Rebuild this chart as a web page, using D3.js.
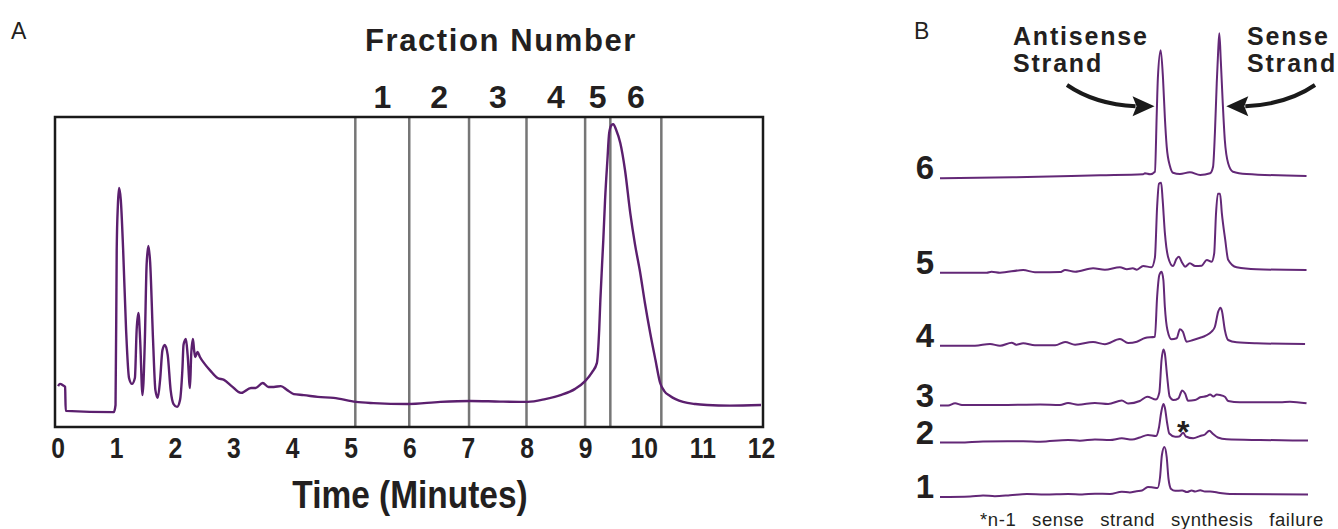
<!DOCTYPE html>
<html>
<head>
<meta charset="utf-8">
<script src="https://cdn.jsdelivr.net/npm/d3@7"></script>
<style>
  body { margin: 0; background: #fff; }
  svg { display: block; }
  text { font-family: "Liberation Sans", Arial, sans-serif; fill: #231f20; }
</style>
</head>
<body>
<div id="chart"></div>
<script>
// ---- Panel A: preparative run, [time (min), absorbance] ----
const timeTicks = d3.range(0, 13);
const fractionCuts = [5.08, 6, 7.02, 8, 9, 9.43, 10.3];
const fractionNames = ["1", "2", "3", "4", "5", "6"];
const prepTrace = [
  [0.01, 13.2], [0.04, 13.9], [0.09, 13.5], [0.13, 12.9], [0.14, 5.2], [0.96, 4.8],
  [0.99, 7.1], [1.01, 57], [1.03, 71.6], [1.05, 77.1], [1.08, 73.2], [1.12, 57],
  [1.17, 31.3], [1.22, 15.8], [1.27, 13.9], [1.32, 15.8], [1.35, 31.3], [1.38, 36.8],
  [1.41, 28], [1.45, 10.3], [1.49, 28], [1.52, 52.3], [1.55, 58.4], [1.58, 53.2],
  [1.63, 28], [1.67, 11.9], [1.71, 9.4], [1.75, 15.2], [1.79, 24.8], [1.83, 26.5],
  [1.88, 23.2], [1.93, 11.9], [1.98, 7.4], [2.04, 6.5], [2.09, 8.7], [2.13, 18.4],
  [2.15, 26.5], [2.19, 28.4], [2.22, 23.2], [2.26, 12.6], [2.28, 23.2], [2.31, 28.4],
  [2.33, 24.8], [2.35, 22.6], [2.39, 24.2], [2.43, 22.6], [2.50, 20.6], [2.61, 18.1],
  [2.73, 15.8], [2.84, 15.2], [2.97, 13.2], [3.13, 11], [3.30, 12.6], [3.38, 12.6],
  [3.50, 14.2], [3.60, 12.9], [3.69, 12.9], [3.81, 13.2], [3.92, 11.9], [4.03, 10.6],
  [4.20, 10.3], [4.44, 9.7], [4.71, 9.4], [5.09, 8.1], [5.39, 7.7], [5.97, 7.4],
  [6.53, 8.1], [7.04, 8.4], [7.55, 8.2], [8.02, 8.1], [8.32, 9.0], [8.58, 10.3],
  [8.83, 12.3], [9.0, 14.8], [9.12, 17.7], [9.20, 20.6], [9.24, 31.3], [9.26, 41],
  [9.31, 60.3], [9.34, 73.2], [9.38, 86.1], [9.41, 94.8], [9.45, 97.4], [9.48, 97.7],
  [9.53, 95.8], [9.60, 91.6], [9.68, 82.9], [9.77, 69], [9.85, 59], [9.94, 49.7],
  [10.02, 40], [10.11, 30.3], [10.20, 21.6], [10.28, 14.2], [10.35, 11.6], [10.45, 10],
  [10.67, 8.1], [10.88, 7.4], [11.08, 7.1], [11.47, 6.9], [12.0, 7.1]
];

// ---- Panel B: analytical runs of each fraction, [retention (rel. %), absorbance] ----
const fractionOffsets = [0, 0.545, 0.915, 1.513, 2.243, 3.187];
const trace1 = [
  [0, 0], [8.2, 0.005], [11.7, 0.015], [14.9, 0.008], [19.0, 0.017], [23.6, 0.03],
  [28.5, 0.025], [34.8, 0.03], [38.6, 0.025], [42.1, 0.033], [46.2, 0.03], [49.4, 0.053],
  [51.6, 0.045], [53.4, 0.058], [54.9, 0.065], [56.5, 0.10], [57.9, 0.095], [59.1, 0.09],
  [59.8, 0.2], [60.3, 0.42], [60.98, 0.50], [61.6, 0.40], [62.1, 0.18], [62.8, 0.08],
  [63.9, 0.062], [65.8, 0.065], [67.1, 0.05], [68.4, 0.065], [69.3, 0.055], [70.7, 0.068],
  [72.0, 0.055], [73.4, 0.055], [76.1, 0.04], [78.8, 0.03], [100, 0.025]
];
const trace2 = [
  [0, 0], [5.4, 0.0], [11.7, 0.01], [22.6, 0.012], [27.2, 0.008], [34.8, 0.025],
  [38.0, 0.018], [42.1, 0.03], [46.2, 0.025], [49.4, 0.042], [52.2, 0.03], [54.3, 0.05],
  [56.5, 0.075], [58.7, 0.065], [59.5, 0.15], [60.1, 0.30], [60.7, 0.385], [61.1, 0.35],
  [61.7, 0.20], [62.3, 0.09], [63.9, 0.058], [65.0, 0.06], [66.1, 0.098], [66.8, 0.06],
  [68.8, 0.042], [70.7, 0.065], [72.0, 0.08], [73.2, 0.118], [74.2, 0.085], [75.5, 0.05],
  [77.9, 0.032], [87.0, 0.025], [100, 0.02]
];
const trace3 = [
  [0, 0], [2.2, 0.0], [4.1, 0.022], [5.98, 0.005], [16.3, 0.005], [27.2, 0.01],
  [32.6, 0.005], [34.8, 0.025], [37.5, 0.008], [42.1, 0.025], [45.7, 0.015], [49.4, 0.05],
  [51.1, 0.02], [54.3, 0.045], [56.3, 0.088], [58.7, 0.06], [59.6, 0.13], [60.2, 0.455],
  [60.7, 0.56], [61.1, 0.52], [61.7, 0.30], [62.4, 0.09], [63.4, 0.055], [64.8, 0.072],
  [65.8, 0.15], [66.6, 0.12], [67.4, 0.048], [69.3, 0.055], [70.7, 0.082], [72.5, 0.095],
  [73.4, 0.11], [74.3, 0.09], [75.2, 0.11], [76.1, 0.105], [77.4, 0.088], [78.3, 0.045],
  [81.5, 0.032], [92.4, 0.032], [95.1, 0.038], [99.6, 0.022]
];
const trace4 = [
  [0, 0], [9.5, 0.0], [13.6, 0.017], [16.3, 0.0], [19.5, 0.03], [20.7, 0.01],
  [22.6, 0.024], [25.8, 0.005], [31.3, 0.005], [34.0, 0.037], [36.7, 0.01], [41.6, 0.037],
  [44.8, 0.015], [48.9, 0.067], [51.1, 0.027], [53.5, 0.04], [55.7, 0.077], [58.4, 0.09],
  [59.0, 0.49], [59.6, 0.707], [60.2, 0.74], [60.7, 0.657], [61.1, 0.39], [61.8, 0.157],
  [62.9, 0.064], [64.3, 0.074], [65.2, 0.164], [66.0, 0.14], [67.0, 0.04], [68.8, 0.057],
  [71.1, 0.084], [72.0, 0.097], [73.8, 0.14], [74.7, 0.19], [75.6, 0.34], [76.2, 0.38],
  [76.6, 0.35], [77.4, 0.157], [78.3, 0.057], [80.6, 0.034], [86.0, 0.024], [99.2, 0.017]
];
const trace5 = [
  [0, 0], [12.7, 0], [14.0, 0.01], [16.3, 0.0], [22.6, 0.027], [25.8, 0.005],
  [32.6, 0.006], [34.0, 0.027], [36.7, 0.01], [41.6, 0.044], [44.8, 0.03], [48.9, 0.054],
  [50.8, 0.035], [52.4, 0.044], [53.5, 0.03], [55.2, 0.067], [57.5, 0.054], [58.4, 0.15],
  [59.0, 0.66], [59.5, 0.89], [60.1, 0.90], [60.5, 0.73], [61.1, 0.40], [61.96, 0.16],
  [63.3, 0.067], [64.3, 0.14], [64.9, 0.16], [65.8, 0.10], [66.6, 0.06], [67.9, 0.094],
  [69.3, 0.067], [71.1, 0.07], [72.5, 0.127], [73.8, 0.11], [74.5, 0.19], [75.0, 0.59],
  [75.5, 0.79], [76.1, 0.79], [76.6, 0.59], [77.5, 0.33], [78.3, 0.13], [80.6, 0.054],
  [86.0, 0.034], [99.6, 0.027]
];
const trace6 = [
  [0, 0], [19.8, 0.01], [43.5, 0.03], [55.2, 0.04], [55.7, 0.05], [57.1, 0.04],
  [58.4, 0.065], [58.9, 0.65], [59.2, 1.0], [59.97, 1.28], [60.6, 1.0], [61.1, 0.61],
  [61.6, 0.32], [62.5, 0.12], [63.3, 0.056], [65.2, 0.043], [67.9, 0.06], [70.7, 0.033],
  [73.4, 0.05], [74.2, 0.116], [74.7, 0.45], [75.2, 0.95], [75.6, 1.28], [75.9, 1.45],
  [76.3, 1.18], [76.8, 0.78], [77.4, 0.38], [78.3, 0.15], [79.6, 0.066], [83.3, 0.043],
  [99.6, 0.023]
];
const analyticalTraces = [trace1, trace2, trace3, trace4, trace5, trace6];

const W = 1338, H = 529;
const purple = "#5b1f6e";

const svg = d3.select("#chart").append("svg")
  .attr("width", W)
  .attr("height", H);

// ================= Panel A =================
const boxA = { left: 55, top: 117, right: 763, bottom: 427 };

const xA = d3.scaleLinear().domain([0, 12]).range([57.5, 761]);
const yA = d3.scaleLinear().domain([0, 100]).range([boxA.bottom, boxA.top]);

svg.append("text")
  .attr("x", 11).attr("y", 39)
  .style("font-size", "23px")
  .text("A");

svg.append("text")
  .attr("x", 501).attr("y", 51)
  .attr("text-anchor", "middle")
  .style("font-size", "31px").style("font-weight", "bold")
  .style("letter-spacing", "1.6px")
  .text("Fraction Number");

// fraction numbers centred between cut lines
const fracMid = fractionNames.map((d, i) => ({
  name: d, t: (fractionCuts[i] + fractionCuts[i + 1]) / 2
}));
svg.selectAll(".fracLabel")
  .data(fracMid)
  .enter()
  .append("text")
  .attr("class", "fracLabel")
  .attr("x", d => xA(d.t))
  .attr("y", 108)
  .attr("text-anchor", "middle")
  .style("font-size", "32px").style("font-weight", "bold")
  .text(d => d.name);

// cut lines
svg.selectAll(".cut")
  .data(fractionCuts)
  .enter()
  .append("line")
  .attr("class", "cut")
  .attr("x1", d => xA(d)).attr("x2", d => xA(d))
  .attr("y1", boxA.top).attr("y2", boxA.bottom)
  .attr("stroke", "#767676")
  .attr("stroke-width", 2.5);

// chromatogram
const lineA = d3.line()
  .x(d => xA(d[0]))
  .y(d => yA(d[1]))
  .curve(d3.curveMonotoneX);

svg.append("path")
  .datum(prepTrace)
  .attr("d", lineA)
  .attr("fill", "none")
  .attr("stroke", purple)
  .attr("stroke-width", 2.4)
  .attr("stroke-linejoin", "round");

// frame
svg.append("rect")
  .attr("x", boxA.left).attr("y", boxA.top)
  .attr("width", boxA.right - boxA.left)
  .attr("height", boxA.bottom - boxA.top)
  .attr("fill", "none")
  .attr("stroke", "#1a1a1a")
  .attr("stroke-width", 2.5);

// time axis (labels only)
const xAxis = d3.axisBottom(xA).tickValues(timeTicks).tickSize(0).tickPadding(0);
const axisG = svg.append("g")
  .attr("transform", `translate(0, 458)`)
  .call(xAxis);
axisG.select(".domain").remove();
axisG.selectAll("text")
  .attr("y", 0).attr("dy", 0)
  .attr("transform", "scale(0.85,1)")
  .style("font-family", "'Liberation Sans', Arial, sans-serif")
  .style("font-size", "29px").style("font-weight", "bold")
  .style("fill", "#231f20");

svg.append("text")
  .attr("transform", `translate(410, 508) scale(0.88,1)`)
  .attr("text-anchor", "middle")
  .style("font-size", "38px").style("font-weight", "bold")
  .text("Time (Minutes)");

// ================= Panel B =================
const xB = d3.scaleLinear().domain([0, 100]).range([940, 1308]);
const yB = d3.scaleLinear().domain([0, 5]).range([497, -3]);

svg.append("text")
  .attr("x", 914).attr("y", 39)
  .style("font-size", "23px")
  .text("B");

const lineB = d3.line()
  .x(d => xB(d[0]))
  .y(d => yB(d[1]))
  .curve(d3.curveMonotoneX);

const runs = analyticalTraces.map((tr, i) => ({
  name: fractionNames[i],
  offset: fractionOffsets[i],
  points: tr.map(p => [p[0], p[1] + fractionOffsets[i]])
}));

svg.selectAll(".run")
  .data(runs)
  .enter()
  .append("path")
  .attr("class", "run")
  .attr("d", d => lineB(d.points))
  .attr("fill", "none")
  .attr("stroke", "#632877")
  .attr("stroke-width", 2)
  .attr("stroke-linejoin", "round");

svg.selectAll(".runLabel")
  .data(runs)
  .enter()
  .append("text")
  .attr("class", "runLabel")
  .attr("x", 934)
  .attr("y", d => yB(d.offset) + 1)
  .attr("text-anchor", "end")
  .style("font-size", "33px").style("font-weight", "bold")
  .text(d => d.name);

// strand annotations
const labelStyle = sel => sel
  .style("font-size", "25px").style("font-weight", "bold")
  .style("letter-spacing", "1.8px");

svg.append("text").attr("x", 1013).attr("y", 45).call(labelStyle).text("Antisense");
svg.append("text").attr("x", 1013).attr("y", 72).call(labelStyle).text("Strand");
svg.append("text").attr("x", 1247).attr("y", 45).call(labelStyle).text("Sense");
svg.append("text").attr("x", 1247).attr("y", 72).call(labelStyle).text("Strand");

const arrowY = yB(fractionOffsets[5] + 0.72);
const arrows = [
  { tip: xB(58.3), dir: 1, start: [1067, 85] },
  { tip: xB(77.8), dir: -1, start: [1315, 85] }
];
arrows.forEach(a => {
  const baseX = a.tip - a.dir * 22;
  const p = d3.path();
  p.moveTo(a.start[0], a.start[1]);
  p.quadraticCurveTo(a.start[0] + a.dir * 28, arrowY - 2, baseX + a.dir * 3, arrowY);
  svg.append("path")
    .attr("d", p.toString())
    .attr("fill", "none")
    .attr("stroke", "#1a1a1a")
    .attr("stroke-width", 4);
  svg.append("path")
    .attr("d", `M${a.tip},${arrowY} L${baseX},${arrowY - 10} L${baseX + a.dir * 4},${arrowY} L${baseX},${arrowY + 10} Z`)
    .attr("fill", "#1a1a1a");
});

// n-1 marker
svg.append("text")
  .attr("x", xB(66.1)).attr("y", 443)
  .attr("text-anchor", "middle")
  .style("font-size", "32px").style("font-weight", "bold")
  .text("*");

svg.append("text")
  .attr("x", 980).attr("y", 526)
  .style("font-size", "18.5px")
  .style("letter-spacing", "0.6px")
  .style("word-spacing", "10px")
  .text("*n-1 sense strand synthesis failure");
</script>
</body>
</html>
